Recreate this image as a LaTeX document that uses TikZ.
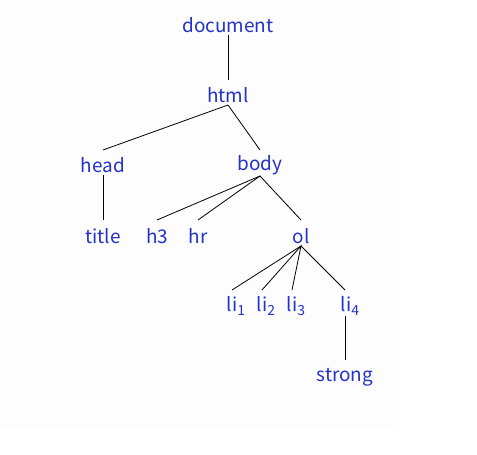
\documentclass[tikz,border=0pt]{standalone}
\usepackage{fontspec}
\setmainfont{Noto Sans CJK KR}
\definecolor{tagblue}{RGB}{35,50,200}
\definecolor{paper}{RGB}{253,253,253}
\tikzset{
  tag/.style={text=tagblue, font=\fontsize{19}{22}\selectfont, inner sep=0pt, anchor=center},
  edge/.style={draw=black, line width=0.8bp}
}
\newcommand{\sbs}[1]{\raisebox{-0.35ex}{\fontsize{14}{16}\selectfont #1}}
\begin{document}
\begin{tikzpicture}[x=1bp,y=-1bp]
\useasboundingbox (0,0) rectangle (477,455);
\fill[paper] (0,0) rectangle (399,429);
\node[tag] (document) at (228,25) {document};
\node[tag] (html) at (228,95) {html};
\node[tag] (head) at (103,165) {head};
\node[tag] (body) at (260,165) {body};
\node[tag] (title) at (103,236) {title};
\node[tag] (h3) at (157,236) {h3};
\node[tag] (hr) at (198,236) {hr};
\node[tag] (ol) at (301,236) {ol};
\node[tag] (li1) at (236,306) {li\sbs{1}};
\node[tag] (li2) at (266,306) {li\sbs{2}};
\node[tag] (li3) at (296,306) {li\sbs{3}};
\node[tag] (li4) at (350,306) {li\sbs{4}};
\node[tag] (strong) at (345,377) {strong};
\coordinate (docB) at (228,35);
\coordinate (htmlT) at (228,80);
\coordinate (htmlB) at (228,105);
\coordinate (headT) at (103,150);
\coordinate (headB) at (103,175);
\coordinate (bodyT) at (260,150);
\coordinate (bodyB) at (260,176);
\coordinate (titleT) at (103,220);
\coordinate (h3T) at (157,220);
\coordinate (hrT) at (198,220);
\coordinate (olT) at (301,220);
\coordinate (olB) at (301,246);
\coordinate (li1T) at (232,290);
\coordinate (li2T) at (262,290);
\coordinate (li3T) at (292,290);
\coordinate (li4T) at (345,290);
\coordinate (li4B) at (345,316);
\coordinate (strongT) at (345,360);
\draw[edge] (docB) -- (htmlT);
\draw[edge] (headT) -- (htmlB) -- (bodyT);
\draw[edge] (headB) -- (titleT);
\draw[edge] (h3T) -- (bodyB) -- (olT);
\draw[edge] (hrT) -- (bodyB);
\draw[edge] (li1T) -- (olB) -- (li4T);
\draw[edge] (li2T) -- (olB) -- (li3T);
\draw[edge] (li4B) -- (strongT);
\end{tikzpicture}
\end{document}
